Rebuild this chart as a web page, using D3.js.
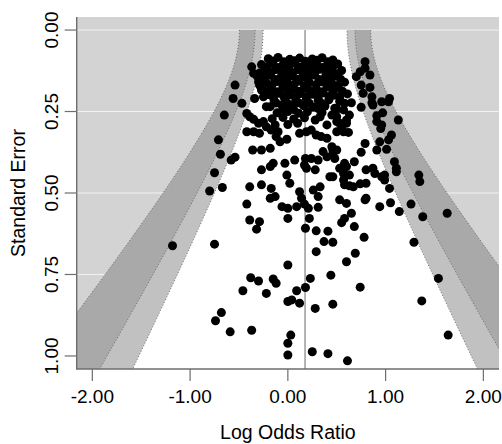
<!DOCTYPE html>
<html>
<head>
<meta charset="utf-8">
<script src="https://cdn.jsdelivr.net/npm/d3@7"></script>
<style>
	body { margin: 0; background: #fff; }
	text { font-family: "Liberation Sans", Arial, sans-serif; fill: #000; }
</style>
</head>
<body>
<svg id="chart" width="502" height="444"></svg>
<script>
// study estimates
const logOddsRatio = [
	-0.42, 0.00, 0.09, 0.17, 0.21, 0.31, -0.39, -0.29, -0.32, 0.00,
	0.22, 0.18, 0.29, 0.41, 0.37, 0.46, 0.29, 0.60, 0.69, 0.55,
	0.58, 0.65, 0.68, 0.78, 0.94, 1.05, 1.14, 0.79, -0.75, 0.00,
	0.44, -0.38, -0.30, -0.15, -0.12, -0.46, -0.22, 0.09, 0.18, 0.23,
	0.74, 0.00, 0.04, 0.12, 0.28, 0.46, -0.68, -0.74, -0.59, -0.37,
	0.03, 0.00, 0.00, 0.25, 0.41, 0.61, -0.80, -0.67, -1.18, 0.63,
	0.74, 0.80, 0.99, 1.35, 0.80, 1.26, 1.38, 1.63, 1.29, 1.54,
	1.37, 1.64, -0.65, -0.71, -0.69, -0.75, 0.50, 0.58, 0.65, 0.75,
	0.86, 1.03, 0.91, 0.97, 1.13, 0.95, 0.50, 0.55, 0.60, 0.63,
	0.50, 0.62, 0.79, 0.75, 0.91, 1.01, 0.46, 0.46, 0.68, 0.58,
	0.53, 0.57, 0.46, 0.57, 0.87, 0.89, 0.99, 1.11, 1.11, 1.34,
	0.79, 0.74, 0.79, 0.84, 0.75, 0.84, 0.86, 1.04, 0.70, 0.77,
	0.87, 0.96, 0.91, 0.96, 0.94, 1.03, 1.06, 1.09, 0.96, 1.04,
	0.80, -0.37, -0.35, -0.54, -0.56, -0.47, -0.42, -0.39, -0.35, -0.30,
	-0.27, -0.34, -0.25, -0.22, -0.54, -0.36, -0.27, -0.18, -0.08, -0.01,
	-0.42, -0.35, -0.29, -0.30, -0.25, -0.22, -0.17, -0.13, -0.10, -0.12,
	-0.27, -0.18, -0.15, -0.03, 0.07, 0.18, 0.24, 0.12, 0.19, 0.24,
	0.29, 0.34, 0.40, 0.28, 0.33, 0.45, 0.50, 0.48, 0.57, 0.53,
	0.60, 0.57, 0.45, 0.50, 0.36, 0.40, 0.48, 0.17, 0.19, 0.31,
	0.28, 0.43, 0.60, 0.63, 0.58, 0.67, -0.27, -0.17, -0.13, -0.18,
	-0.39, -0.01, 0.02, 0.12, 0.14, 0.33, 0.26, 0.31, 0.53, 0.60,
	-0.06, -0.58,
	// dense top of the funnel
	-0.20, -0.10, 0.02, 0.12, 0.25, 0.35, 0.46,
	-0.27, -0.16, -0.05, 0.07, 0.17, 0.29, 0.40, 0.51,
	-0.24, -0.12, -0.01, 0.10, 0.21, 0.33, 0.44, 0.55,
	-0.31, -0.18, -0.07, 0.04, 0.15, 0.27, 0.38, 0.49,
	-0.22, -0.11, 0.00, 0.11, 0.22, 0.34, 0.45, 0.58,
	-0.17, -0.05, 0.06, 0.17, 0.29, 0.40, 0.52,
	-0.20, -0.09, 0.02, 0.13, 0.25, 0.36, 0.47, 0.61,
	-0.14, -0.03, 0.08, 0.19, 0.31, 0.42, 0.53,
	-0.18, -0.06, 0.05, 0.16, 0.26, 0.38,
	-0.11, 0.00, 0.11, 0.20, 0.35,
	-0.16, -0.05, 0.06, 0.17,
	0.00, 0.10, 0.40,
	-0.15, -0.04, 0.07, 0.18, 0.30, 0.41,
	-0.21, -0.10, 0.01, 0.12, 0.24, 0.35, 0.46,
	-0.29, -0.17, -0.06, 0.05, 0.16, 0.28, 0.39, 0.50,
	-0.25, -0.13, -0.02, 0.09, 0.20, 0.32, 0.43, 0.54,
	-0.29, -0.16, -0.05, 0.06, 0.17, 0.29, 0.40, 0.51,
	-0.24, -0.11, 0.00, 0.11, 0.22, 0.34, 0.46, 0.56,
	-0.15, -0.04, 0.08, 0.19, 0.31, 0.42, 0.53,
	-0.12, 0.00, 0.11, 0.22, 0.34,
	-0.05, 0.06, 0.31
];
const standardError = [
	0.534, 0.547, 0.542, 0.534, 0.547, 0.544, 0.583, 0.588, 0.611, 0.578,
	0.578, 0.608, 0.616, 0.617, 0.649, 0.651, 0.680, 0.711, 0.685, 0.591,
	0.578, 0.562, 0.603, 0.636, 0.542, 0.530, 0.557, 0.521, 0.657, 0.721,
	0.752, 0.760, 0.770, 0.764, 0.777, 0.800, 0.808, 0.800, 0.790, 0.762,
	0.789, 0.833, 0.828, 0.838, 0.854, 0.841, 0.867, 0.892, 0.926, 0.921,
	0.936, 0.961, 0.997, 0.987, 0.993, 1.015, 0.494, 0.483, 0.662, 0.478,
	0.472, 0.470, 0.460, 0.465, 0.516, 0.534, 0.573, 0.562, 0.651, 0.762,
	0.831, 0.936, 0.261, 0.337, 0.381, 0.438, 0.243, 0.225, 0.223, 0.237,
	0.223, 0.220, 0.263, 0.254, 0.276, 0.302, 0.281, 0.297, 0.286, 0.261,
	0.312, 0.314, 0.348, 0.375, 0.368, 0.366, 0.368, 0.383, 0.404, 0.409,
	0.424, 0.440, 0.450, 0.460, 0.424, 0.440, 0.445, 0.424, 0.435, 0.445,
	0.097, 0.128, 0.117, 0.138, 0.169, 0.176, 0.205, 0.210, 0.143, 0.194,
	0.230, 0.220, 0.281, 0.291, 0.343, 0.337, 0.322, 0.404, 0.450, 0.486,
	0.429, 0.113, 0.133, 0.169, 0.210, 0.225, 0.256, 0.266, 0.274, 0.159,
	0.184, 0.210, 0.205, 0.235, 0.390, 0.368, 0.368, 0.363, 0.343, 0.335,
	0.312, 0.312, 0.317, 0.286, 0.281, 0.297, 0.307, 0.291, 0.312, 0.327,
	0.429, 0.419, 0.409, 0.409, 0.399, 0.394, 0.394, 0.317, 0.312, 0.307,
	0.322, 0.327, 0.332, 0.276, 0.266, 0.261, 0.266, 0.240, 0.245, 0.286,
	0.276, 0.312, 0.358, 0.368, 0.373, 0.389, 0.394, 0.414, 0.424, 0.399,
	0.429, 0.450, 0.419, 0.445, 0.475, 0.481, 0.475, 0.486, 0.511, 0.516,
	0.481, 0.445, 0.470, 0.496, 0.516, 0.481, 0.491, 0.511, 0.521, 0.532,
	0.542, 0.399,
	0.088, 0.084, 0.090, 0.086, 0.089, 0.085, 0.092,
	0.106, 0.102, 0.108, 0.101, 0.107, 0.103, 0.109, 0.104,
	0.125, 0.121, 0.127, 0.122, 0.126, 0.120, 0.128, 0.124,
	0.143, 0.139, 0.145, 0.140, 0.144, 0.138, 0.146, 0.141,
	0.162, 0.158, 0.163, 0.157, 0.161, 0.159, 0.164, 0.160,
	0.180, 0.176, 0.181, 0.177, 0.182, 0.175, 0.179,
	0.198, 0.194, 0.199, 0.195, 0.197, 0.193, 0.200, 0.196,
	0.217, 0.213, 0.218, 0.212, 0.216, 0.214, 0.219,
	0.235, 0.231, 0.236, 0.232, 0.237, 0.233,
	0.254, 0.250, 0.255, 0.251, 0.253,
	0.272, 0.268, 0.273, 0.269,
	0.290, 0.286, 0.291,
	0.095, 0.097, 0.094, 0.096, 0.093, 0.097,
	0.113, 0.115, 0.112, 0.114, 0.111, 0.115, 0.113,
	0.132, 0.130, 0.134, 0.131, 0.133, 0.129, 0.132, 0.134,
	0.150, 0.152, 0.149, 0.151, 0.148, 0.152, 0.150, 0.151,
	0.169, 0.167, 0.170, 0.168, 0.171, 0.167, 0.169, 0.170,
	0.187, 0.189, 0.186, 0.188, 0.185, 0.189, 0.187, 0.188,
	0.206, 0.204, 0.207, 0.205, 0.208, 0.204, 0.206,
	0.224, 0.226, 0.223, 0.225, 0.224,
	0.242, 0.244, 0.241
];

const pooledEstimate = 0.176; // summary log odds ratio (vertical line)
const tau2 = 0.068;           // added to the sampling variance for the contours
const contourLevels = [99, 95, 90];
const contourZ = [2.576, 1.960, 1.645];
const contourFill = ["#a9a9a9", "#c1c1c1", "#ffffff"];

const xTicks = [-2, -1, 0, 1, 2];
const yTicks = [0, 0.25, 0.5, 0.75, 1];

const svg = d3.select("#chart");
const plotLeft = 76.7, plotRight = 499, plotTop = 17, plotBottom = 369;

const x = d3.scaleLinear().domain([-2.16, 2.16]).range([plotLeft, plotRight]);
const y = d3.scaleLinear().domain([-0.04, 1.04]).range([plotTop, plotBottom]);

svg.append("clipPath").attr("id", "plotclip")
	.append("rect")
	.attr("x", plotLeft).attr("y", plotTop)
	.attr("width", plotRight - plotLeft).attr("height", plotBottom - plotTop);

const plot = svg.append("g").attr("clip-path", "url(#plotclip)");

// grey background and white grid
plot.append("rect")
	.attr("x", plotLeft).attr("y", plotTop)
	.attr("width", plotRight - plotLeft).attr("height", plotBottom - plotTop)
	.attr("fill", "#d3d3d3");

plot.selectAll(".grid")
	.data(yTicks)
	.enter()
	.append("line")
	.attr("x1", plotLeft).attr("x2", plotRight)
	.attr("y1", (d) => y(d)).attr("y2", (d) => y(d))
	.attr("stroke", "#f2f2f2")
	.attr("stroke-width", 1);

// contour regions, widest first
const seSteps = d3.range(0, 1.0401, 0.01);
const contourLine = d3.line().x((d) => x(d[0])).y((d) => y(d[1]));
contourZ.forEach((z, i) => {
	const leftSide = seSteps.map((s) => [pooledEstimate - z * Math.sqrt(s * s + tau2), s]);
	const rightSide = seSteps.map((s) => [pooledEstimate + z * Math.sqrt(s * s + tau2), s]).reverse();
	plot.append("path")
		.attr("d", contourLine(leftSide.concat(rightSide)) + "Z")
		.attr("fill", contourFill[i])
		.attr("stroke", "none");
	[leftSide, rightSide].forEach((side) => {
		plot.append("path")
			.attr("d", contourLine(side))
			.attr("fill", "none")
			.attr("stroke", "#555")
			.attr("stroke-width", 0.8)
			.attr("stroke-dasharray", "1,2");
	});
});

// reference line at the pooled estimate
plot.append("line")
	.attr("x1", x(pooledEstimate)).attr("x2", x(pooledEstimate))
	.attr("y1", y(0)).attr("y2", plotBottom)
	.attr("stroke", "#8a8a8a")
	.attr("stroke-width", 1.3);

// studies
plot.selectAll("circle")
	.data(logOddsRatio.map((v, i) => ({ x: v, se: standardError[i] })))
	.enter()
	.append("circle")
	.attr("cx", (d) => x(d.x))
	.attr("cy", (d) => y(d.se))
	.attr("r", 4.5)
	.attr("fill", "#000");

// L-shaped box
svg.append("path")
	.attr("d", `M${plotLeft},${plotTop}V${plotBottom}H${plotRight}`)
	.attr("fill", "none")
	.attr("stroke", "#6e6e6e")
	.attr("stroke-width", 1.4);

// x axis ticks and labels
svg.selectAll(".xtick")
	.data(xTicks)
	.enter()
	.append("line")
	.attr("x1", (d) => x(d)).attr("x2", (d) => x(d))
	.attr("y1", plotBottom).attr("y2", plotBottom + 12)
	.attr("stroke", "#6e6e6e")
	.attr("stroke-width", 1.2);

svg.selectAll(".xlab")
	.data(xTicks)
	.enter()
	.append("text")
	.attr("x", (d) => x(d))
	.attr("y", 403)
	.attr("text-anchor", "middle")
	.attr("font-size", 19)
	.text((d) => d3.format(".2f")(d).replace("−", "-"));

// y axis ticks and labels
svg.selectAll(".ytick")
	.data(yTicks)
	.enter()
	.append("line")
	.attr("x1", plotLeft - 12).attr("x2", plotLeft)
	.attr("y1", (d) => y(d)).attr("y2", (d) => y(d))
	.attr("stroke", "#6e6e6e")
	.attr("stroke-width", 1.2);

svg.selectAll(".ylab")
	.data(yTicks)
	.enter()
	.append("text")
	.attr("transform", (d) => `translate(58,${y(d)}) rotate(-90)`)
	.attr("text-anchor", "middle")
	.attr("font-size", 19)
	.text((d) => d3.format(".2f")(d));

// axis titles
svg.append("text")
	.attr("x", (plotLeft + plotRight) / 2)
	.attr("y", 439)
	.attr("text-anchor", "middle")
	.attr("font-size", 19.5)
	.text("Log Odds Ratio");

svg.append("text")
	.attr("transform", `translate(25,${(plotTop + plotBottom) / 2}) rotate(-90)`)
	.attr("text-anchor", "middle")
	.attr("font-size", 19.5)
	.text("Standard Error");
</script>
</body>
</html>
